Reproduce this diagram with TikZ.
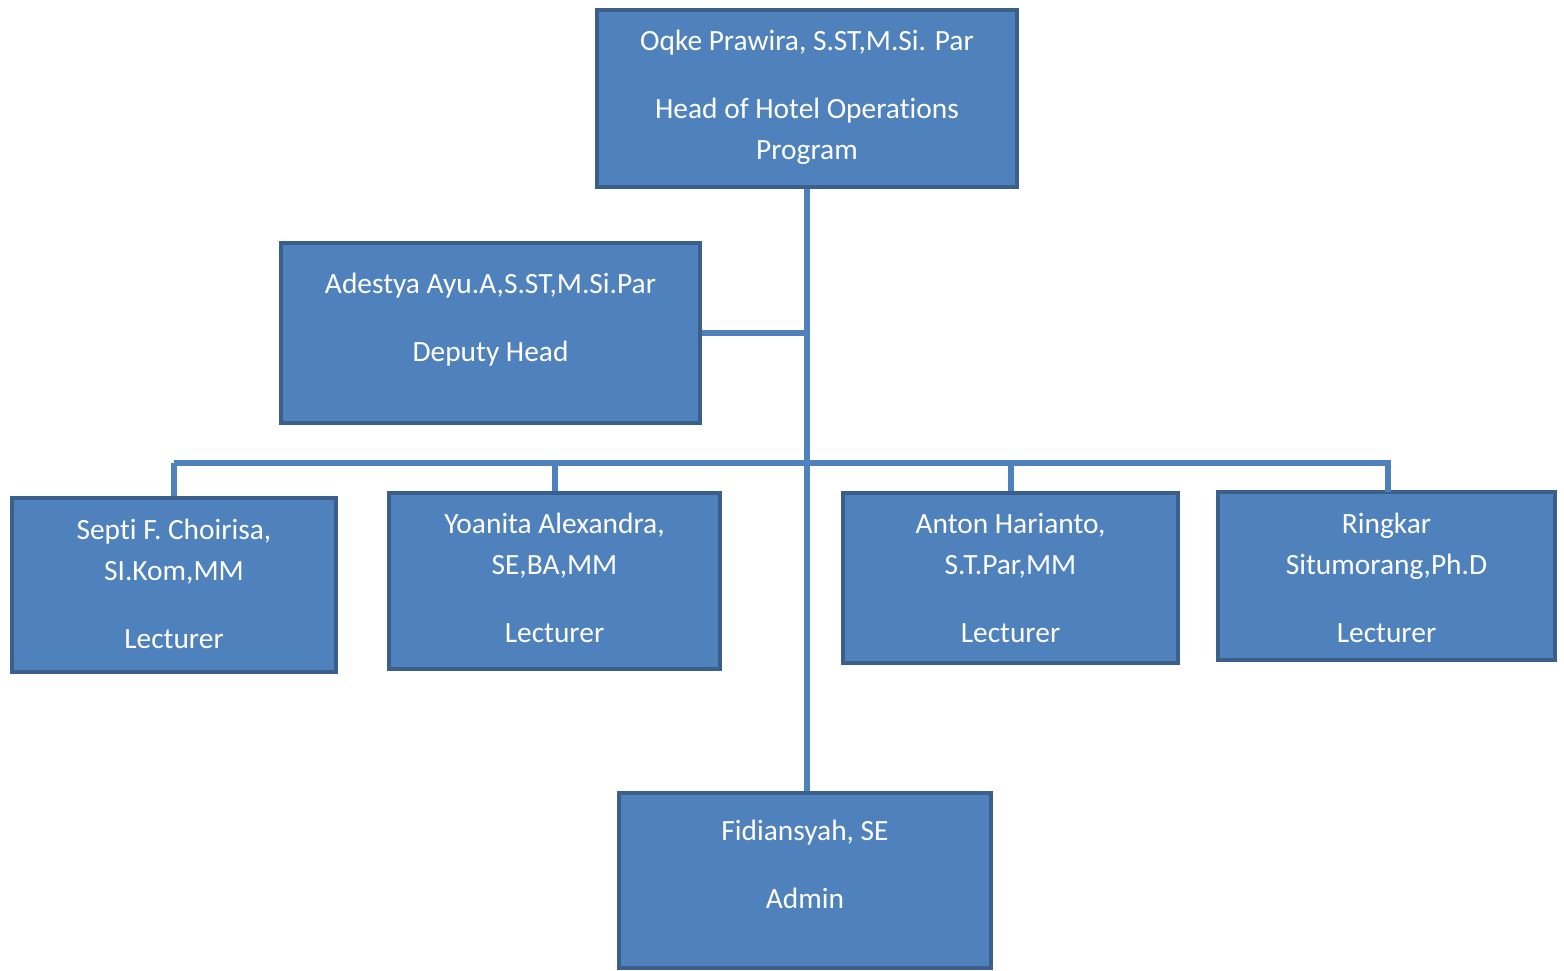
\documentclass[tikz,border=0pt]{standalone}
\usepackage{fontspec}
\setmainfont[Ligatures={NoCommon}]{Carlito}
\definecolor{boxfill}{HTML}{4F81BD}
\definecolor{boxline}{HTML}{3A5F8B}
\definecolor{conn}{HTML}{4F81BD}
\begin{document}
\begin{tikzpicture}[x=1pt,y=-1pt,
  orgbox/.style={draw=boxline, line width=4pt, fill=boxfill, rectangle, inner sep=0pt},
  txt/.style={text=white, align=center, font=\fontsize{29.4}{41}\selectfont, inner sep=0pt},
  link/.style={draw=conn, line width=6pt}]
\useasboundingbox (0,0) rectangle (1564,970);
% boxes
\node[orgbox, minimum width=420pt, minimum height=177pt] (head) at (807,98.5) {};
\node[orgbox, minimum width=419pt, minimum height=180pt] (dep) at (490.5,333) {};
\node[orgbox, minimum width=324pt, minimum height=174pt] (l1) at (174,585) {};
\node[orgbox, minimum width=331pt, minimum height=176pt] (l2) at (554.5,581) {};
\node[orgbox, minimum width=335pt, minimum height=170pt] (l3) at (1010.5,578) {};
\node[orgbox, minimum width=337pt, minimum height=168pt] (l4) at (1386.5,576) {};
\node[orgbox, minimum width=372pt, minimum height=175pt] (adm) at (805,880.5) {};
% texts
\node[txt, anchor=north] (headT) at (807,30) {Oqke Prawira, S.ST,M.Si. Par\\[27pt]Head of Hotel Operations\\Program};
\node[txt, anchor=north] (depT) at (490.5,273) {Adestya Ayu.A,S.ST,M.Si.Par\\[27pt]Deputy Head};
\node[txt, anchor=north] (l1T) at (174,519) {Septi F. Choirisa,\\SI.Kom,MM\\[27pt]Lecturer};
\node[txt, anchor=north] (l2T) at (554.5,513) {Yoanita Alexandra,\\SE,BA,MM\\[27pt]Lecturer};
\node[txt, anchor=north] (l3T) at (1010.5,513) {Anton Harianto,\\S.T.Par,MM\\[27pt]Lecturer};
\node[txt, anchor=north] (l4T) at (1386.5,513) {Ringkar\\Situmorang,Ph.D\\[27pt]Lecturer};
\node[txt, anchor=north] (admT) at (805,820) {Fidiansyah, SE\\[27pt]Admin};
% connectors
\coordinate (bus) at (807,463);
\coordinate (busL) at (174,463);
\coordinate (busR) at (1391,463);
\draw[link] (head.south) -- (head.south |- adm.north);
\draw[link] (dep.east) -- (dep.east -| head.south);
\draw[link] (busL) -- (busR);
\draw[link] (busL) -- (l1.north);
\draw[link] (l2.north |- bus) -- (l2.north);
\draw[link] (l3.north |- bus) -- (l3.north);
\draw[link] (1388,463) -- (1388,492);
\end{tikzpicture}
\end{document}
